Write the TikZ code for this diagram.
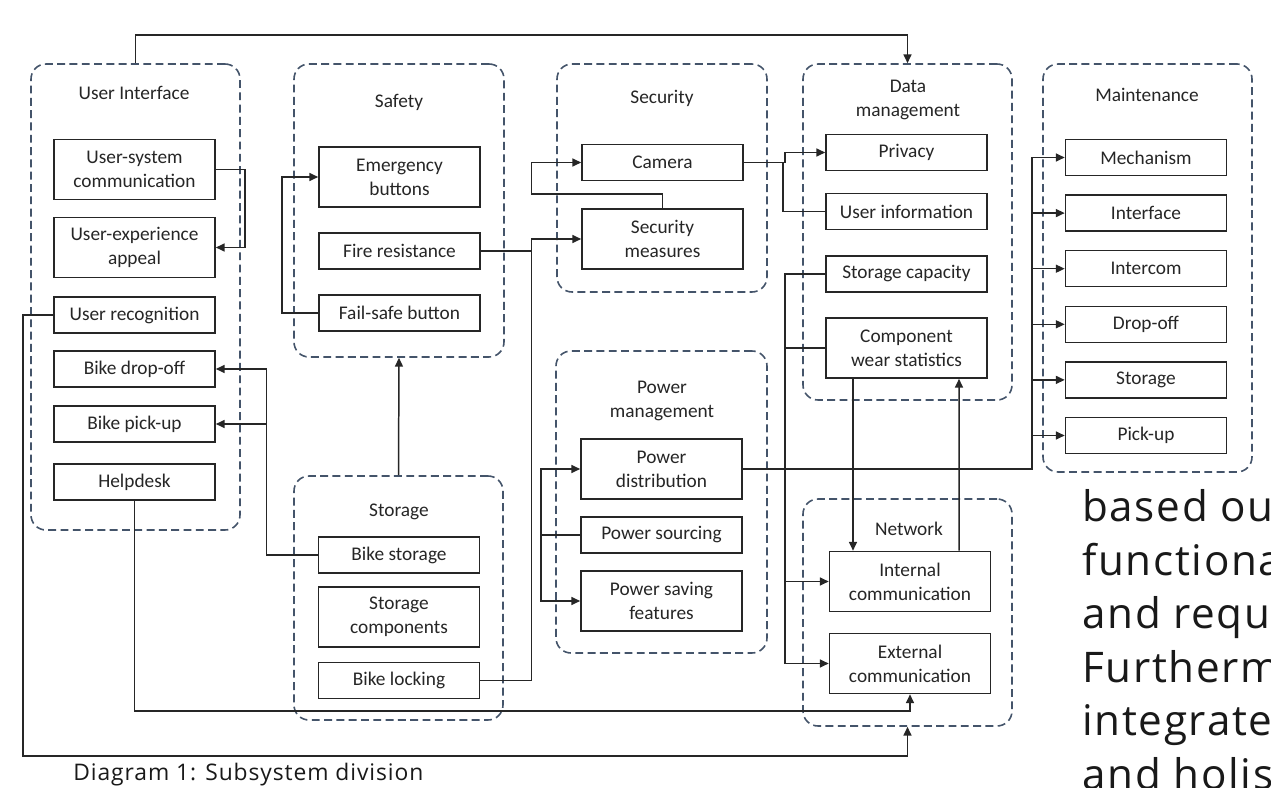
\documentclass[tikz,border=0pt]{standalone}
\usepackage{fontspec}
\setmainfont{Carlito}
\newfontfamily\pagefont[LetterSpace=4]{Open Sans}
\usetikzlibrary{arrows.meta,fit,calc}

\definecolor{grpblue}{HTML}{44546A}
\definecolor{inkgray}{HTML}{262626}

\begin{document}
\begin{tikzpicture}[x=0.2mm, y=-0.2mm,
	font=\fontsize{11}{13.6}\selectfont, text=inkgray,
	unitbox/.style={draw=inkgray, line width=0.9pt, minimum width=3.22cm, minimum height=0.72cm, align=center, inner sep=1pt},
	tallbox/.style={unitbox, minimum height=1.2cm},
	subsys/.style={draw=grpblue, line width=0.9pt, dash pattern=on 4.5pt off 2.5pt, rounded corners=0.3cm, inner sep=0pt},
	grouptitle/.style={align=center},
	wire/.style={draw=inkgray, line width=0.85pt},
	wirearrow/.style={wire, -{Triangle[length=5pt,width=4.5pt]}},
	pagetext/.style={font=\pagefont\fontsize{13}{15}\selectfont, text=black!90, inner sep=0pt, anchor=base west}]
			% page
			\path[use as bounding box, fill=white] (0,0) rectangle (1271,788);

			% subsystems
			\node[subsys, fit={(31,64) (240,530)}] (ui) {};
			\node[subsys, fit={(294,64) (504,357)}] (safety) {};
			\node[subsys, fit={(557,64) (767,292)}] (security) {};
			\node[subsys, fit={(803,64) (1012,400)}] (data) {};
			\node[subsys, fit={(1043,64) (1252,472)}] (maint) {};
			\node[subsys, fit={(294,476) (503,720)}] (storage) {};
			\node[subsys, fit={(556,351) (767,653)}] (power) {};
			\node[subsys, fit={(803,499) (1012,726)}] (network) {};
			\node[grouptitle] (uit) at (134,93) {User Interface};
			\node[grouptitle] (safetyt) at (399,102) {Safety};
			\node[grouptitle] (securityt) at (662,98) {Security};
			\node[grouptitle] (datat) at (908,100) {Data\\management};
			\node[grouptitle] (maintt) at (1147,95) {Maintenance};
			\node[grouptitle] (storaget) at (399,512) {Storage};
			\node[grouptitle] (powert) at (662,401) {Power\\management};
			\node[grouptitle] (networkt) at (909,529) {Network};

			% user interface
			\node[tallbox] (usc) at (134.5,169.5) {User-system\\communication};
			\node[tallbox] (uxa) at (134.5,247.5) {User-experience\\appeal};
			\node[unitbox] (urec) at (134.5,315) {User recognition};
			\node[unitbox] (bdrop) at (134.5,369) {Bike drop-off};
			\node[unitbox] (bpick) at (134.5,424) {Bike pick-up};
			\node[unitbox] (help) at (134.5,482) {Helpdesk};

			% safety
			\node[tallbox] (emerg) at (399.5,177) {Emergency\\buttons};
			\node[unitbox] (fire) at (399.5,251) {Fire resistance};
			\node[unitbox] (fail) at (399.5,313) {Fail-safe button};

			% security
			\node[unitbox] (cam) at (662.5,162.5) {Camera};
			\node[tallbox] (secm) at (662.5,239) {Security\\measures};

			% data management
			\node[unitbox] (priv) at (906.5,152.5) {Privacy};
			\node[unitbox] (uinfo) at (906.5,211.5) {User information};
			\node[unitbox] (scap) at (906.5,274) {Storage capacity};
			\node[tallbox] (cws) at (906.5,348) {Component\\wear statistics};

			% maintenance
			\foreach \n/\t [count=\i from 0] in {mech/Mechanism, iface/Interface, icom/Intercom, mdrop/Drop-off, mstor/Storage, mpick/Pick-up}
				\node[unitbox] (\n) at (1146,{157.5+55.6*\i}) {\t};

			% power management
			\node[tallbox] (pdist) at (661.5,469) {Power\\distribution};
			\node[unitbox] (psrc) at (661.5,535) {Power sourcing};
			\node[tallbox] (psave) at (661.5,601) {Power saving\\features};

			% storage
			\node[unitbox] (bstor) at (399,555) {Bike storage};
			\node[tallbox] (scomp) at (399,617) {Storage\\components};
			\node[unitbox] (block) at (399,680.5) {Bike locking};

			% network
			\node[tallbox] (icomm) at (910,581.5) {Internal\\communication};
			\node[tallbox] (ecomm) at (910,663.5) {External\\communication};

			% links
			\draw[wirearrow] (ui.north) -- ++(0,-28) -| (data.north);
			\draw[wirearrow] (usc.east) -- ++(29,0) |- (uxa.east);
			\draw[wirearrow] (fail.west) -- ++(-36,0) |- (emerg.west);
			\draw[wire] (fire.east) -- ++(51,0);
			\draw[wirearrow] (block.east) -- ++(51,0) |- (secm.west);
			\draw[wirearrow] (secm.north) -- ++(0,-14) -- ++(-131,0) |- (cam.west);
			\draw[wirearrow] (cam.east) -- ++(41,0) |- (priv.west);
			\draw[wire] (uinfo.west) -- ++(-42,0) -- ++(0,-49);
			\draw[wirearrow] (scap.west) -- ++(-40,0) |- (ecomm.west);
			\draw[wirearrow] (cws.west) -- ++(-40,0) |- (icomm.west);
			\draw[wirearrow] ($(cws.south)+(-53.5,0)$) -- ($(icomm.north)+(-57,0)$);
			\draw[wirearrow] ($(icomm.north)+(49,0)$) -- ($(cws.south)+(52.5,0)$);
			\foreach \n in {mech,iface,icom,mdrop,mstor,mpick}
				\draw[wirearrow] (pdist.east) -- ++(289,0) |- (\n.west);
			\draw[wirearrow] (psrc.west) -- ++(-39,0) |- (pdist.west);
			\draw[wirearrow] (psrc.west) -- ++(-39,0) |- (psave.west);
			\draw[wirearrow] (bstor.west) -- ++(-51,0) |- (bdrop.east);
			\draw[wirearrow] (bstor.west) -- ++(-51,0) |- (bpick.east);
			\draw[wirearrow] (storage.north) -- (safety.south);
			\draw[wirearrow] (help.south) -- ++(0,210) -| (ecomm.south);
			\draw[wirearrow] (urec.west) -- ++(-30,0) -- ++(0,441) -| (network.south);

			% caption and page text
			\node[pagetext] (caption) at (73,781) {Diagram 1: Subsystem division};
			\foreach \w [count=\i from 0] in {based ou, functiona, and requ, Furtherm, integrate, and holis}
				\node[pagetext, font=\pagefont\fontsize{24}{30}\selectfont] (side\i) at (1082,{522+53.4*\i}) {\w};
\end{tikzpicture}
\end{document}
